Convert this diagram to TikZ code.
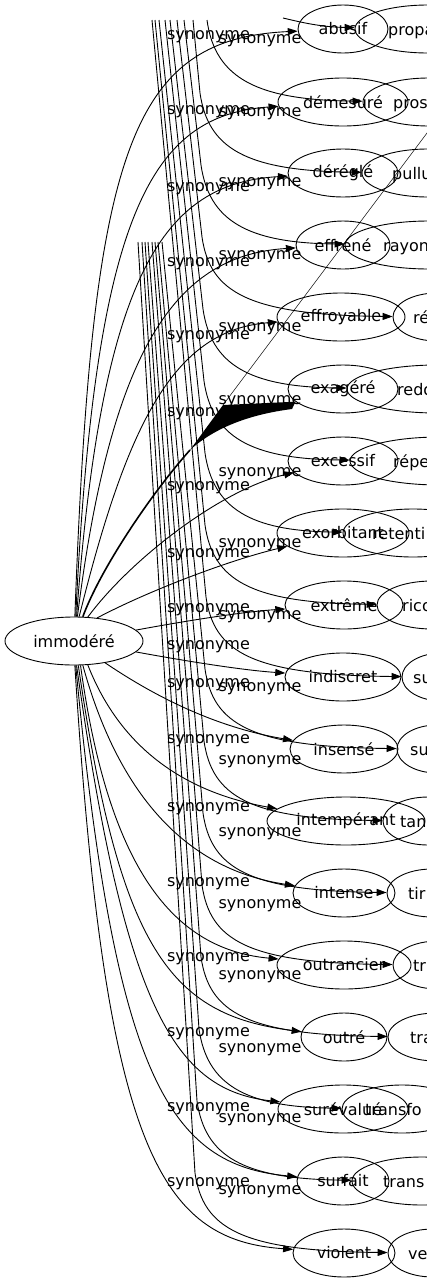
\documentclass[tikz,border=0pt]{standalone}
\usepackage{fontspec}
\setmainfont{DejaVu Sans}
\usetikzlibrary{shapes.geometric,arrows.meta}
\begin{document}
\begin{tikzpicture}[x=1pt,y=-1pt,
  every node/.style={font=\fontsize{16}{19}\selectfont},
  ell/.style={draw, ellipse, minimum height=48pt, inner sep=0pt, line width=0.9pt},
  syn/.style={draw, line width=0.9pt, -{Triangle[length=10pt,width=7pt]}},
  lab/.style={anchor=base, inner sep=0pt},
  frag/.style={anchor=base west, inner sep=0pt}]
\useasboundingbox (0,0) rectangle (427,1283);
\clip (0,0) rectangle (427,1283);
% central node
\node[ell, minimum width=138pt] (imm) at (74,641) {immodéré};
% middle column
\node[ell, minimum width=90pt]  (m0)  at (343,29)   {abusif};
\node[ell, minimum width=130pt] (m1)  at (343,102)  {démesuré};
\node[ell, minimum width=110pt] (m2)  at (343,173)  {déréglé};
\node[ell, minimum width=94pt]  (m3)  at (343,245)  {effréné};
\node[ell, minimum width=128pt] (m4)  at (341,317)  {effroyable};
\node[ell, minimum width=110pt] (m5)  at (343,389)  {exagéré};
\node[ell, minimum width=110pt] (m6)  at (343,461)  {excessif};
\node[ell, minimum width=132pt] (m7)  at (343,533)  {exorbitant};
\node[ell, minimum width=118pt] (m8)  at (344,605)  {extrême};
\node[ell, minimum width=116pt] (m9)  at (343,677)  {indiscret};
\node[ell, minimum width=108pt] (m10) at (344,749)  {insensé};
\node[ell, minimum width=158pt] (m11) at (346,821)  {intempérant};
\node[ell, minimum width=102pt] (m12) at (344,893)  {intense};
\node[ell, minimum width=134pt] (m13) at (344,965)  {outrancier};
\node[ell, minimum width=86pt]  (m14) at (344,1037) {outré};
\node[ell, minimum width=130pt] (m15) at (343,1109) {surévalué};
\node[ell, minimum width=92pt]  (m16) at (343,1181) {surfait};
\node[ell, minimum width=102pt] (m17) at (344,1253) {violent};
% right column (cut by the picture edge)
\node[ell, minimum width=146pt] (r0)  at (428,29)   {};
\node[ell, minimum width=132pt] (r1)  at (429,102)  {};
\node[ell, minimum width=132pt] (r2)  at (428,173)  {};
\node[ell, minimum width=168pt] (r3)  at (429,245)  {};
\node[ell, minimum width=88pt]  (r4)  at (437,317)  {};
\node[ell, minimum width=180pt] (r5)  at (437,389)  {};
\node[ell, minimum width=180pt] (r6)  at (440,461)  {};
\node[ell, minimum width=140pt] (r7)  at (413,533)  {};
\node[ell, minimum width=110pt] (r8)  at (432,605)  {};
\node[ell, minimum width=80pt]  (r9)  at (442,677)  {};
\node[ell, minimum width=80pt]  (r10) at (437,749)  {};
\node[ell, minimum width=90pt]  (r11) at (428,821)  {};
\node[ell, minimum width=90pt]  (r12) at (432,893)  {};
\node[ell, minimum width=90pt]  (r13) at (438,965)  {};
\node[ell, minimum width=96pt]  (r14) at (436,1037) {};
\node[ell, minimum width=120pt] (r15) at (402,1109) {};
\node[ell, minimum width=140pt] (r16) at (422,1181) {};
\node[ell, minimum width=90pt]  (r17) at (433,1253) {};
\node[frag] (f0)  at (388,35)   {propa};
\node[frag] (f1)  at (393,108)  {pros};
\node[frag] (f2)  at (392,179)  {pullu};
\node[frag] (f3)  at (383,251)  {rayon};
\node[frag] (f4)  at (413,323)  {ré};
\node[frag] (f5)  at (397,395)  {redou};
\node[frag] (f6)  at (393,467)  {réper};
\node[frag] (f7)  at (372,539)  {retenti};
\node[frag] (f8)  at (402,611)  {rico};
\node[frag] (f9)  at (413,683)  {su};
\node[frag] (f10) at (410,755)  {su};
\node[frag] (f11) at (400,827)  {tan};
\node[frag] (f12) at (408,899)  {tir};
\node[frag] (f13) at (413,971)  {tra};
\node[frag] (f14) at (410,1043) {tra};
\node[frag] (f15) at (365,1115) {transfo};
\node[frag] (f16) at (383,1187) {trans};
\node[frag] (f17) at (408,1259) {ve};
% edges from immodéré
\draw[syn] (imm.88)  .. controls (92,150)  and (130,39)   .. (m0);
\draw[syn] (imm.86)  .. controls (95,215)  and (150,115)  .. (m1);
\draw[syn] (imm.84)  .. controls (102,270) and (165,183)  .. (m2);
\draw[syn] (imm.82)  .. controls (112,340) and (180,255)  .. (m3);
\draw[syn] (imm.78)  .. controls (128,420) and (175,330)  .. (m4);
\draw[syn] (imm.60)  .. controls (130,560) and (220,490)  .. (m6);
\draw[syn] (imm.45)  .. controls (150,590) and (230,560)  .. (m7);
\draw[syn] (imm.10)  .. controls (180,622) and (240,612)  .. (m8);
\draw[syn] (imm.-10) .. controls (180,660) and (240,670)  .. (m9);
\draw[syn] (imm.-35) .. controls (160,700) and (220,728)  .. (m10);
\draw[syn] (imm.-60) .. controls (125,760) and (200,795)  .. (m11);
\draw[syn] (imm.-70) .. controls (120,800) and (190,870)  .. (m12);
\draw[syn] (imm.-75) .. controls (110,880) and (180,950)  .. (m13);
\draw[syn] (imm.-80) .. controls (120,950) and (170,1015) .. (m14);
\draw[syn] (imm.-84) .. controls (125,1010) and (175,1090) .. (m15);
\draw[syn] (imm.-86) .. controls (115,1080) and (170,1165) .. (m16);
\draw[syn] (imm.-88) .. controls (105,1150) and (160,1240) .. (m17);
% the odd edge to exagéré
\coordinate (w1) at (190,450);
\coordinate (w2) at (223,405);
\coordinate (w3) at (292,409);
\coordinate (d1) at (445,109);
\draw[line width=1.6pt] (imm.70) .. controls (100,570) and (150,495) .. (w1);
\fill (w1) -- (w2) -- (m5.195) -- (w3) .. controls (245,415) and (212,430) .. (w1) -- cycle;
\draw[line width=0.5pt] (w2) -- (d1);
% edges from the top bundles
\coordinate (t0) at (283,18);
\draw[syn] (t0) .. controls (300,22) and (320,27) .. (r0);
\coordinate (t1) at (207,20);
\draw[syn] (t1) .. controls (215,80) and (260,100) .. (r1);
\foreach \i/\xt/\yt/\xb/\yr in {2/193/20/200/173, 3/184/20/201/245, 4/177/20/202/317,
    5/170/20/203/389, 6/165/20/204/461, 7/159/20/205/533, 8/155/20/205/605,
    9/152/20/206/677, 10/162/242/205/749, 11/158/242/204/821, 12/155/242/203/893,
    13/152/242/202/965, 14/148/242/201/1037, 15/145/242/199/1109,
    16/142/242/197/1181, 17/138/242/195/1253}{
  \coordinate (t\i) at (\xt,\yt);
  \coordinate (k\i) at (\xb,\yr-80);
  \draw[syn] (t\i) -- (k\i) .. controls (\xb+8,\yr-25) and (\xb+45,\yr-2) .. (r\i);
}
% labels
\foreach \n/\x/\y in {a0/208.5/35, b0/260/39, a1/208.5/110, b1/260/112,
   a2/208.5/187, b2/260/182, a3/208.5/262, b3/260/255, a4/208.5/335, b4/260/327,
   a5/208.5/412, b5/260/400, a6/208.5/486, b6/260/472, a7/208.5/553, b7/260/543,
   a8/208.5/608, b8/260/615, c8/208.5/645, a9/208.5/683, b9/260/687,
   a10/208.5/739, b10/260/760, a11/208.5/807, b11/260/832, a12/208.5/882, b12/260/904,
   a13/208.5/957, b13/260/975, a14/208.5/1032, b14/260/1048, a15/208.5/1107, b15/260/1118,
   a16/208.5/1182, b16/260/1190}{
  \node[lab] (l\n) at (\x,\y+4.5) {synonyme};
}
\end{tikzpicture}
\end{document}
